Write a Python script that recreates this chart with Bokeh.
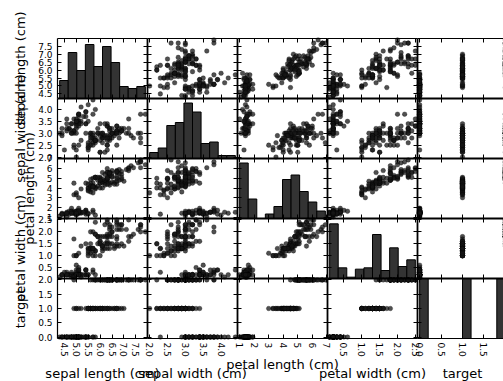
import numpy as np
from math import pi
from bokeh.plotting import figure
from bokeh.models import Range1d, LinearAxis, FixedTicker, PrintfTickFormatter, Label
from bokeh.embed import file_html
from bokeh.resources import INLINE

# ---------------- data (iris) ----------------
sepal_length = [5.1,4.9,4.7,4.6,5.0,5.4,4.6,5.0,4.4,4.9, 5.4,4.8,4.8,4.3,5.8,5.7,5.4,5.1,5.7,5.1,
                5.4,5.1,4.6,5.1,4.8,5.0,5.0,5.2,5.2,4.7, 4.8,5.4,5.2,5.5,4.9,5.0,5.5,4.9,4.4,5.1,
                5.0,4.5,4.4,5.0,5.1,4.8,5.1,4.6,5.3,5.0, 7.0,6.4,6.9,5.5,6.5,5.7,6.3,4.9,6.6,5.2,
                5.0,5.9,6.0,6.1,5.6,6.7,5.6,5.8,6.2,5.6, 5.9,6.1,6.3,6.1,6.4,6.6,6.8,6.7,6.0,5.7,
                5.5,5.5,5.8,6.0,5.4,6.0,6.7,6.3,5.6,5.5, 5.5,6.1,5.8,5.0,5.6,5.7,5.7,6.2,5.1,5.7,
                6.3,5.8,7.1,6.3,6.5,7.6,4.9,7.3,6.7,7.2, 6.5,6.4,6.8,5.7,5.8,6.4,6.5,7.7,7.7,6.0,
                6.9,5.6,7.7,6.3,6.7,7.2,6.2,6.1,6.4,7.2, 7.4,7.9,6.4,6.3,6.1,7.7,6.3,6.4,6.0,6.9,
                6.7,6.9,5.8,6.8,6.7,6.7,6.3,6.5,6.2,5.9]
sepal_width = [3.5,3.0,3.2,3.1,3.6,3.9,3.4,3.4,2.9,3.1, 3.7,3.4,3.0,3.0,4.0,4.4,3.9,3.5,3.8,3.8,
               3.4,3.7,3.6,3.3,3.4,3.0,3.4,3.5,3.4,3.2, 3.1,3.4,4.1,4.2,3.1,3.2,3.5,3.6,3.0,3.4,
               3.5,2.3,3.2,3.5,3.8,3.0,3.8,3.2,3.7,3.3, 3.2,3.2,3.1,2.3,2.8,2.8,3.3,2.4,2.9,2.7,
               2.0,3.0,2.2,2.9,2.9,3.1,3.0,2.7,2.2,2.5, 3.2,2.8,2.5,2.8,2.9,3.0,2.8,3.0,2.9,2.6,
               2.4,2.4,2.7,2.7,3.0,3.4,3.1,2.3,3.0,2.5, 2.6,3.0,2.6,2.3,2.7,3.0,2.9,2.9,2.5,2.8,
               3.3,2.7,3.0,2.9,3.0,3.0,2.5,2.9,2.5,3.6, 3.2,2.7,3.0,2.5,2.8,3.2,3.0,3.8,2.6,2.2,
               3.2,2.8,2.8,2.7,3.3,3.2,2.8,3.0,2.8,3.0, 2.8,3.8,2.8,2.8,2.6,3.0,3.4,3.1,3.0,3.1,
               3.1,3.1,2.7,3.2,3.3,3.0,2.5,3.0,3.4,3.0]
petal_length = [1.4,1.4,1.3,1.5,1.4,1.7,1.4,1.5,1.4,1.5, 1.5,1.6,1.4,1.1,1.2,1.5,1.3,1.4,1.7,1.5,
                1.7,1.5,1.0,1.7,1.9,1.6,1.6,1.5,1.4,1.6, 1.6,1.5,1.5,1.4,1.5,1.2,1.3,1.4,1.3,1.5,
                1.3,1.3,1.3,1.6,1.9,1.4,1.6,1.4,1.5,1.4, 4.7,4.5,4.9,4.0,4.6,4.5,4.7,3.3,4.6,3.9,
                3.5,4.2,4.0,4.7,3.6,4.4,4.5,4.1,4.5,3.9, 4.8,4.0,4.9,4.7,4.3,4.4,4.8,5.0,4.5,3.5,
                3.8,3.7,3.9,5.1,4.5,4.5,4.7,4.4,4.1,4.0, 4.4,4.6,4.0,3.3,4.2,4.2,4.2,4.3,3.0,4.1,
                6.0,5.1,5.9,5.6,5.8,6.6,4.5,6.3,5.8,6.1, 5.1,5.3,5.5,5.0,5.1,5.3,5.5,6.7,6.9,5.0,
                5.7,4.9,6.7,4.9,5.7,6.0,4.8,4.9,5.6,5.8, 6.1,6.4,5.6,5.1,5.6,6.1,5.6,5.5,4.8,5.4,
                5.6,5.1,5.1,5.9,5.7,5.2,5.0,5.2,5.4,5.1]
petal_width = [0.2,0.2,0.2,0.2,0.2,0.4,0.3,0.2,0.2,0.1, 0.2,0.2,0.1,0.1,0.2,0.4,0.4,0.3,0.3,0.3,
               0.2,0.4,0.2,0.5,0.2,0.2,0.4,0.2,0.2,0.2, 0.2,0.4,0.1,0.2,0.2,0.2,0.2,0.1,0.2,0.2,
               0.3,0.3,0.2,0.6,0.4,0.3,0.2,0.2,0.2,0.2, 1.4,1.5,1.5,1.3,1.5,1.3,1.6,1.0,1.3,1.4,
               1.0,1.5,1.0,1.4,1.3,1.4,1.5,1.0,1.5,1.1, 1.8,1.3,1.5,1.2,1.3,1.4,1.4,1.7,1.5,1.0,
               1.1,1.0,1.2,1.6,1.5,1.6,1.5,1.3,1.3,1.3, 1.2,1.4,1.2,1.0,1.3,1.2,1.3,1.3,1.1,1.3,
               2.5,1.9,2.1,1.8,2.2,2.1,1.7,1.8,1.8,2.5, 2.0,1.9,2.1,2.0,2.4,2.3,1.8,2.2,2.3,1.5,
               2.3,2.0,2.0,1.8,2.1,1.8,1.8,1.8,2.1,1.6, 1.9,2.0,2.2,1.5,1.4,2.3,2.4,1.8,1.8,2.1,
               2.4,2.3,1.9,2.3,2.5,2.3,1.9,2.0,2.3,1.8]
target = [0] * 50 + [1] * 50 + [2] * 50

names = ["sepal length (cm)", "sepal width (cm)", "petal length (cm)",
         "petal width (cm)", "target"]
tick_values = [
    [4.5, 5.0, 5.5, 6.0, 6.5, 7.0, 7.5],
    [2.0, 2.5, 3.0, 3.5, 4.0],
    [1, 2, 3, 4, 5, 6, 7],
    [0.5, 1.0, 1.5, 2.0, 2.5],
    [0.0, 0.5, 1.0, 1.5, 2.0],
]
tick_formats = ["%.1f", "%.1f", "%d", "%.1f", "%.1f"]

columns = [sepal_length, sepal_width, petal_length, petal_width, target]

# ---------------- layout ----------------
W, H = 503, 381
LEFT, TOP, BOTTOM = 57, 38, 43
CELL_W, CELL_H = 90, 60
N = len(names)
# the frame covers the whole canvas; panel units: one panel = 1
X0, X1 = -LEFT / CELL_W, (W - LEFT) / CELL_W
Y0, Y1 = -BOTTOM / CELL_H, N + TOP / CELL_H

TICK_FS = 9.0
LABEL_FS = "13px"
FONT = "DejaVu Sans"
BAR_FILL = "#333333"
DOT = "#151515"

def text_w(s, size):
    return sum(0.636 if c.isdigit() else 0.318 for c in s) * size

def nice_top(m, nbins=9):
    raw = m / nbins
    mag = 10 ** np.floor(np.log10(raw))
    step = 10 * mag
    for s in (1, 2, 5, 10):
        if s * mag >= raw:
            step = s * mag
            break
    return float(np.ceil(m / step) * step)

p = figure(width=W, height=H, output_backend="svg", toolbar_location=None,
           x_range=Range1d(X0, X1), y_range=Range1d(Y0, Y1),
           x_axis_location=None, y_axis_location=None, title=None,
           min_border=0, outline_line_color=None,
           background_fill_color="white", border_fill_color="white")
p.grid.visible = False

arrs = [np.asarray(c, dtype=float) for c in columns]
lo, hi, span = [], [], []
for a in arrs:
    r = a.max() - a.min()
    lo.append(float(a.min() - 0.025 * r))
    hi.append(float(a.max() + 0.025 * r))
    span.append(float(1.05 * r))

for j in range(N):
    p.extra_x_ranges[f"x{j}"] = Range1d(lo[j] + (X0 - j) * span[j], lo[j] + (X1 - j) * span[j])
for i in range(N):
    base = N - 1 - i
    p.extra_y_ranges[f"y{i}"] = Range1d(lo[i] + (Y0 - base) * span[i], lo[i] + (Y1 - base) * span[i])

# ---------------- panels ----------------
for i in range(N):
    for j in range(N):
        if i == j:
            counts, edges = np.histogram(arrs[i], bins=10)
            top = nice_top(counts.max())
            base = N - 1 - i
            p.extra_y_ranges[f"c{i}"] = Range1d((Y0 - base) * top, (Y1 - base) * top)
            p.quad(left=edges[:-1], right=edges[1:], bottom=0, top=counts,
                   x_range_name=f"x{i}", y_range_name=f"c{i}",
                   fill_color=BAR_FILL, line_color="black", line_width=1)
        else:
            p.scatter(x=arrs[j], y=arrs[i], x_range_name=f"x{j}", y_range_name=f"y{i}",
                      size=4.6, fill_color=DOT, fill_alpha=0.75,
                      line_color="black", line_alpha=0.6, line_width=0.5)

# ---------------- axes (ticks inward on every panel side) ----------------
def style(ax, labelled, tick_out, lw):
    ax.axis_line_color = "black"
    ax.axis_line_width = lw
    ax.major_tick_line_color = "black"
    ax.major_tick_line_width = 1
    ax.major_tick_in = 4
    ax.major_tick_out = tick_out
    ax.minor_tick_line_color = None
    if labelled:
        ax.major_label_text_font = FONT
        ax.major_label_text_font_size = f"{TICK_FS}px"
        ax.major_label_text_color = "black"
    else:
        ax.major_label_text_color = None

for j in range(N):
    for k in range(N + 1):
        ax = LinearAxis(x_range_name=f"x{j}", fixed_location=k,
                        bounds=(lo[j], hi[j]),
                        ticker=FixedTicker(ticks=tick_values[j]),
                        formatter=PrintfTickFormatter(format=tick_formats[j]))
        outer = k in (0, N)
        style(ax, k == 0, 0 if outer else 4, 1.2 if outer else 1.8)
        if k == 0:
            ax.major_label_orientation = "vertical"
            ax.major_label_standoff = 4
        p.add_layout(ax, "above" if k == N else "below")

for i in range(N):
    for k in range(N):
        ax = LinearAxis(y_range_name=f"y{i}", fixed_location=k,
                        bounds=(lo[i], hi[i]),
                        ticker=FixedTicker(ticks=tick_values[i]),
                        formatter=PrintfTickFormatter(format=tick_formats[i]))
        style(ax, k == 0, 0 if k == 0 else 4, 1.2 if k == 0 else 1.8)
        if k == 0:
            ax.major_label_standoff = 5
        p.add_layout(ax, "left")

# ---------------- axis titles ----------------
for j in range(N):
    w = max(text_w(tick_formats[j] % t, TICK_FS) for t in tick_values[j])
    gap = 4 + w + 9
    p.add_layout(Label(x=j + 0.5, y=-gap / CELL_H, text=names[j],
                       text_align="center", text_baseline="top",
                       text_font=FONT, text_font_size=LABEL_FS, text_color="black"))
for i in range(N):
    w = max(text_w(tick_formats[i] % t, TICK_FS) for t in tick_values[i])
    gap = 5 + w + 10
    p.add_layout(Label(x=-gap / CELL_W, y=N - i - 0.5, text=names[i], angle=pi / 2,
                       text_align="center", text_baseline="bottom",
                       text_font=FONT, text_font_size=LABEL_FS, text_color="black"))

open("out.html", "w").write(file_html(p, INLINE))
